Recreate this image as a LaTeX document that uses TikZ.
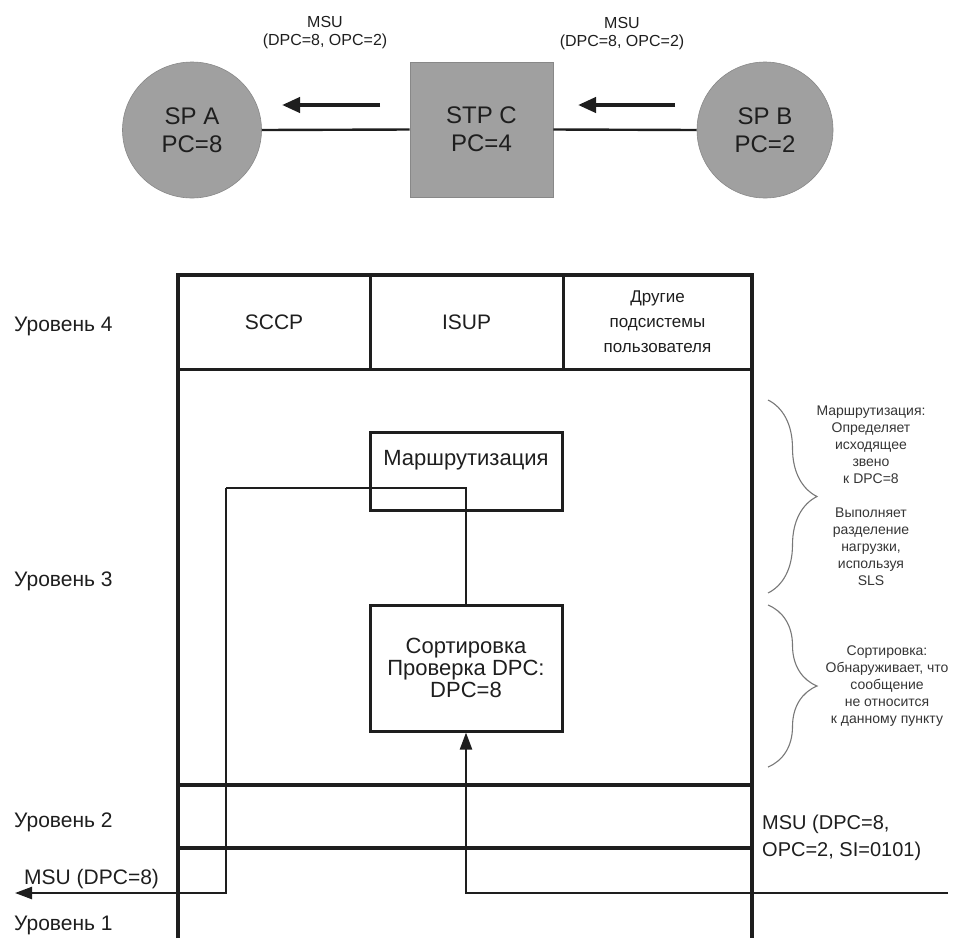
\documentclass[tikz,border=0pt]{standalone}
\usepackage{fontspec}
\setmainfont{Liberation Sans}
\usetikzlibrary{arrows.meta,shapes.geometric,decorations.pathreplacing}
\definecolor{stgray}{RGB}{160,160,160}
\definecolor{ink}{RGB}{30,30,30}
\definecolor{notegray}{RGB}{120,120,120}
\begin{document}
\begin{tikzpicture}[x=1pt,y=-1pt,
  station/.style={fill=stgray,draw=stgray!85!black,line width=0.6pt,inner sep=0pt,
    align=center,text=ink,font=\fontsize{24}{28}\selectfont},
  link/.style={draw=ink,line width=2.4pt},
  flow/.style={draw=ink,line width=4pt,-{Triangle[length=18pt,width=15pt]}},
  msulbl/.style={align=center,text=ink,font=\fontsize{16}{18}\selectfont,inner sep=0pt},
  frame/.style={draw=ink,line width=3.2pt},
  cell/.style={draw=ink,line width=3pt,inner sep=0pt,align=center,text=ink},
  block/.style={draw=ink,line width=3pt,inner sep=0pt,align=center,text=ink,
    minimum width=192pt},
  sig/.style={draw=ink,line width=2.3pt},
  sigarrow/.style={sig,-{Triangle[length=17pt,width=12pt]}},
  level/.style={anchor=base west,inner sep=0pt,text=ink,font=\fontsize{21}{24}\selectfont},
  note/.style={align=center,inner sep=0pt,text=ink!90,font=\fontsize{14}{17}\selectfont},
  bracket/.style={draw=notegray,line width=1.1pt,decorate,
    decoration={brace,amplitude=49pt}}
]
\useasboundingbox (0,0) rectangle (955,938);

% --- signalling network: SP A <- STP C <- SP B ---
\node[station,ellipse,minimum width=139pt,minimum height=136pt] (spa) at (192,130) {SP A\\PC=8};
\node[station,rectangle,minimum width=143pt,minimum height=135pt] (stpc) at (481.5,129.5) {STP C\\PC=4};
\node[station,ellipse,minimum width=136pt,minimum height=136pt] (spb) at (765,130) {SP B\\PC=2};
\draw[link] (spa.east) -- (stpc.west);
\draw[link] (stpc.east) -- (spb.west);

\coordinate (f1s) at (380,105);
\coordinate (f1e) at (282,105);
\coordinate (f2s) at (675,105);
\coordinate (f2e) at (578,105);
\draw[flow] (f1s) -- (f1e);
\draw[flow] (f2s) -- (f2e);
\node[msulbl] (msu1) at (325,33) {MSU\\(DPC=8, OPC=2)};
\node[msulbl] (msu2) at (622,34) {MSU\\(DPC=8, OPC=2)};

% --- MTP levels of STP C ---
\draw[frame] (178,938) -- (178,275) -- (752,275) -- (752,938);
\node[cell,minimum width=192pt,minimum height=94pt,font=\fontsize{21}{24}\selectfont] (sccp) at (274,322) {SCCP};
\node[cell,minimum width=193pt,minimum height=94pt,font=\fontsize{21}{24}\selectfont] (isup) at (466.5,322) {ISUP};
\node[cell,minimum width=189pt,minimum height=94pt,font=\fontsize{17}{25}\selectfont] (other) at (657.5,322) {Другие\\подсистемы\\пользователя};
\draw[frame] (178,785) -- (752,785);
\draw[frame] (178,848) -- (752,848);

\node[level] (l4) at (14,331) {Уровень 4};
\node[level] (l3) at (14,586) {Уровень 3};
\node[level] (l2) at (14,827) {Уровень 2};
\node[level] (l1) at (14,930) {Уровень 1};

% routing and discrimination functions
\node[block,minimum height=78pt] (route) at (466,471) {};
\node[inner sep=0pt,text=ink,font=\fontsize{22}{24}\selectfont] (routet) at (466,460) {Маршрутизация};
\node[block,minimum height=126pt,font=\fontsize{22}{22}\selectfont] (sort) at (466,668) {Сортировка\\Проверка DPC:\\DPC=8};

% message path through the node
\coordinate (inR) at (948,893);
\coordinate (bend) at (226,488);
\coordinate (outL) at (15,893);
\draw[sigarrow] (inR) -| (sort.south);
\draw[sig] (sort.north) |- (bend);
\draw[sigarrow] (bend) |- (outL);

\node[level] (msuout) at (24,884) {MSU (DPC=8)};
\node[anchor=base west,inner sep=0pt,align=left,text=ink,font=\fontsize{20}{27}\selectfont] (msuin) at (762,856) {MSU (DPC=8,\\OPC=2, SI=0101)};

% explanatory braces
\coordinate (b1t) at (768,400);
\coordinate (b1b) at (768,593);
\coordinate (b2t) at (768,605);
\coordinate (b2b) at (768,767);
\draw[bracket] (b1t) -- (b1b);
\draw[bracket] (b2t) -- (b2b);
\node[note] (n1) at (871,444.5) {Маршрутизация:\\Определяет\\исходящее\\звено\\к DPC=8};
\node[note] (n2) at (871,547) {Выполняет\\разделение\\нагрузки,\\используя\\SLS};
\node[note] (n3) at (887,686) {Сортировка:\\Обнаруживает, что\\сообщение\\не относится\\к данному пункту};
\end{tikzpicture}
\end{document}
